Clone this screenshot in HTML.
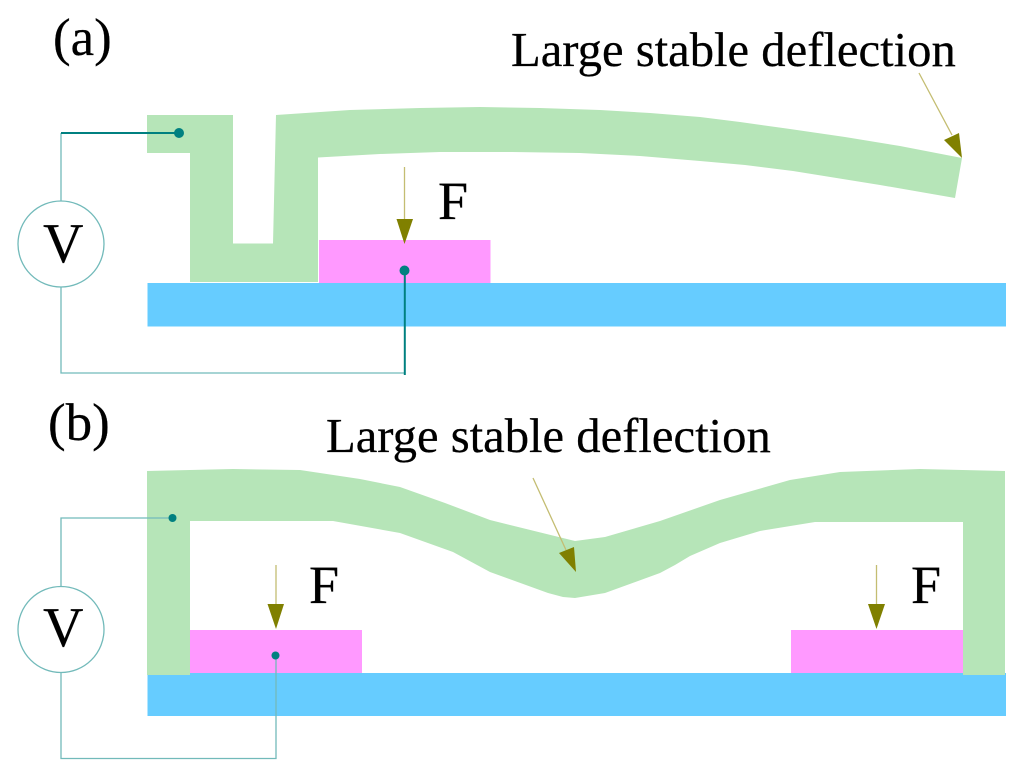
<!DOCTYPE html>
<html>
<head>
<meta charset="utf-8">
<style>
html,body{margin:0;padding:0;background:#fff;}
svg{display:block;}
text{font-family:"Liberation Serif",serif;fill:#000;stroke:#000;stroke-width:0.25;}
</style>
</head>
<body>
<svg width="1024" height="777" viewBox="0 0 1024 777" xmlns="http://www.w3.org/2000/svg">
<rect width="1024" height="777" fill="#fff"/>
<!-- (a) -->
<rect x="147.500" y="283" width="858.500" height="43.500" fill="#66ccff"/>
<rect x="319" y="240" width="171.500" height="43" fill="#ff99ff"/>
<polygon fill="#b6e5b8" points="147,115 233,115 233,243.500 273,243.500 276,115 350,110 420,108 480,107 540,108 600,110 650,113 700,117 740,122 790,129 845,137 900,146 962,158 955,198 880,185 793,171 745,165 700,161 640,156 580,153 512,152 440,152 380,154 318,157.500 318,282 190,282 190,153 147,153"/>
<g fill="none" stroke="#72baba" stroke-width="1.300">
<circle cx="61" cy="244" r="43" fill="#fff"/>
<path d="M61,133V201M61,287V373H405"/>
</g>
<path d="M61,133H179M404.800,270V375" fill="none" stroke="#008080" stroke-width="2"/>
<circle cx="179" cy="133" r="5" fill="#008080"/>
<circle cx="404.500" cy="270.500" r="5" fill="#008080"/>
<path d="M404.500,167V220M919,73L952,135" fill="none" stroke="#c4bd72" stroke-width="1.300"/>
<polygon points="396.500,219 413,219 404.500,244" fill="#808000"/>
<polygon points="944,140 959,133 962,158" fill="#808000"/>
<text x="53" y="55" font-size="53">(a)</text>
<text x="511" y="66" font-size="48.650">Large stable deflection</text>
<text x="438" y="219" font-size="54">F</text>
<text x="43" y="262" font-size="56">V</text>
<!-- (b) -->
<rect x="147.500" y="673" width="858.500" height="43" fill="#66ccff"/>
<rect x="190" y="630" width="172" height="43" fill="#ff99ff"/>
<rect x="791" y="630" width="172" height="43" fill="#ff99ff"/>
<polygon fill="#b6e5b8" points="147,471 233,469 300,470 360,479 400,487 445,503 490,520 575,541 605,537 660,521 720,500 790,480 840,472 920,469 1005,471 1005,675 963,675 963,522 815,522 760,531 720,543 690,556 675,565 660,573 605,593 575,598 563,597 548,593 490,572 453,552 400,533 333,521 190,521 190,675 147,675"/>
<g fill="none" stroke="#72baba" stroke-width="1.300">
<circle cx="61" cy="629.500" r="43" fill="#fff"/>
<path d="M61,587V518H173M61,672V758.500H276V655"/>
</g>
<circle cx="172.500" cy="518" r="4" fill="#008080"/>
<circle cx="275.500" cy="655.500" r="4" fill="#008080"/>
<path d="M276,565V605M876.500,565V605M533,478L566,550" fill="none" stroke="#c4bd72" stroke-width="1.300"/>
<polygon points="267.500,604 284,604 276,629" fill="#808000"/>
<polygon points="868,604 885,604 876.500,629" fill="#808000"/>
<polygon points="559,553 574,547 576,572" fill="#808000"/>
<text x="48" y="440" font-size="53">(b)</text>
<text x="326" y="452" font-size="48.650">Large stable deflection</text>
<text x="309" y="603" font-size="54">F</text>
<text x="911" y="603" font-size="54">F</text>
<text x="43" y="646" font-size="56">V</text>
</svg>
</body>
</html>
